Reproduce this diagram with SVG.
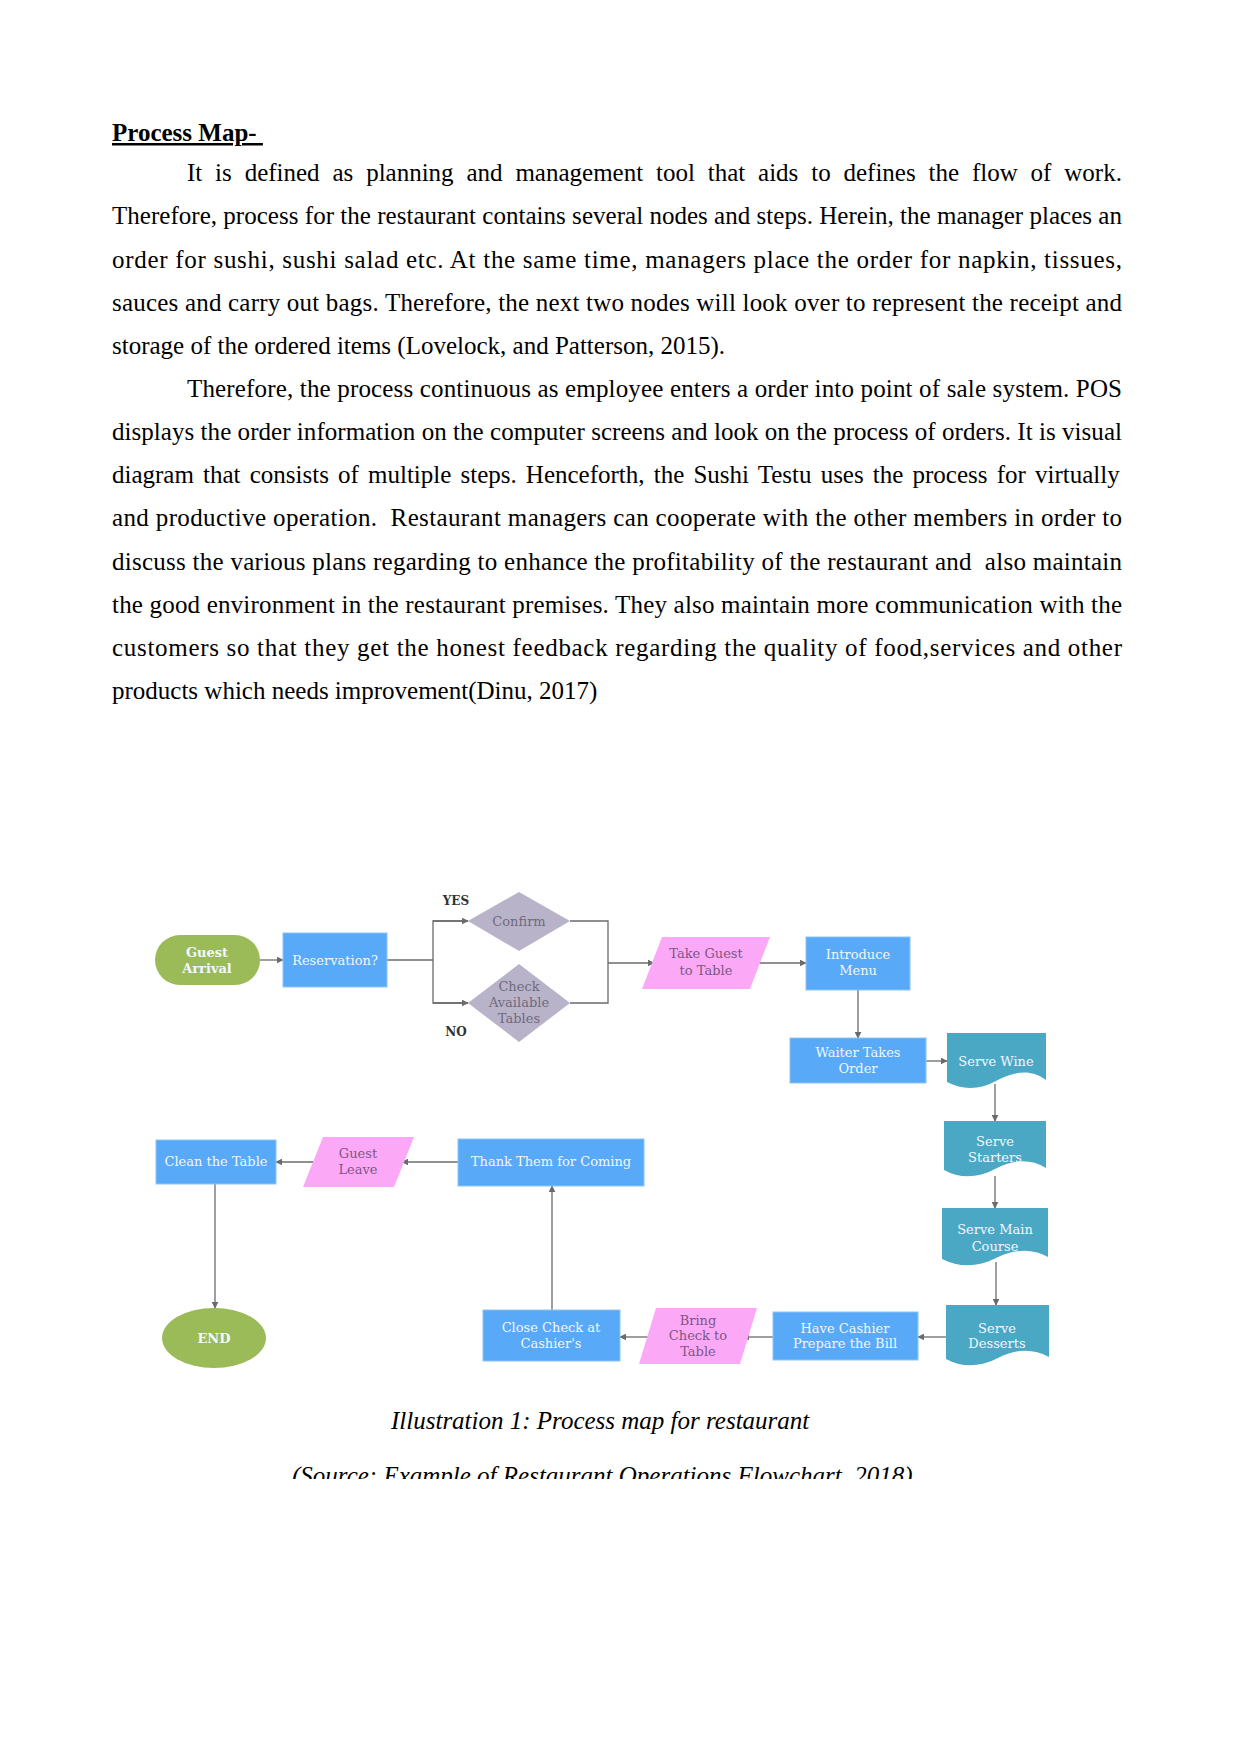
<svg xmlns="http://www.w3.org/2000/svg" width="1241" height="1754" viewBox="0 0 1241 1754">
<style>
.body{font-family:"Liberation Serif","Times New Roman",serif;font-size:25px;fill:#000}
.ital{font-style:italic}
.lbl{font-family:"DejaVu Serif",serif;font-size:13px;text-anchor:middle;fill:#f2f7ff}
.bold{font-weight:bold}
.dk{fill:#6f6a7d}
.pk{fill:#7b5784}
.yn{font-family:"DejaVu Serif",serif;font-size:12px;font-weight:bold;text-anchor:middle;fill:#333}
.box{fill:#58a9f7;stroke:#8cc4f9;stroke-width:1}
.doc{fill:#4ba8c5}
.para{fill:#fba9f7}
.dia{fill:#b9b3c9}
.grn{fill:#9bbb59}
.cn{fill:none;stroke:#6b6b6b;stroke-width:1.3}
</style>
<defs>
<marker id="ah" viewBox="0 0 10 10" refX="9" refY="5" markerWidth="7" markerHeight="7" markerUnits="userSpaceOnUse" orient="auto">
<path d="M0,0 L10,5 L0,10 Z" fill="#6b6b6b"/>
</marker>
<clipPath id="clipSrc"><rect x="0" y="1400" width="1241" height="79"/></clipPath>
</defs>
<rect width="1241" height="1754" fill="#fff"/>

<g id="text-body" class="body">
<text x="112" y="141" font-weight="bold" text-decoration="underline" xml:space="preserve">Process Map- </text>
<text x="187" y="181" word-spacing="6.6">It is defined as planning and management tool that aids to defines the flow of work.</text>
<text x="112" y="224" textLength="1010" lengthAdjust="spacing">Therefore, process for the restaurant contains several nodes and steps. Herein, the manager places an</text>
<text x="112" y="267.5" textLength="1010" lengthAdjust="spacing">order for sushi, sushi salad etc. At the same time, managers place the order for napkin, tissues,</text>
<text x="112" y="311" textLength="1010" lengthAdjust="spacing">sauces and carry out bags. Therefore, the next two nodes will look over to represent the receipt and</text>
<text x="112" y="354">storage of the ordered items (Lovelock, and Patterson, 2015).</text>
<text x="187" y="397" textLength="935" lengthAdjust="spacing">Therefore, the process continuous as employee enters a order into point of sale system. POS</text>
<text x="112" y="440" textLength="1010" lengthAdjust="spacing">displays the order information on the computer screens and look on the process of orders. It is visual</text>
<text x="112" y="483" word-spacing="2.9">diagram that consists of multiple steps. Henceforth, the Sushi Testu uses the process for virtually</text>
<text x="112" y="526" textLength="1010" lengthAdjust="spacing" xml:space="preserve">and productive operation.  Restaurant managers can cooperate with the other members in order to</text>
<text x="112" y="569.5" textLength="1010" lengthAdjust="spacing" xml:space="preserve">discuss the various plans regarding to enhance the profitability of the restaurant and  also maintain</text>
<text x="112" y="612.5" textLength="1010" lengthAdjust="spacing">the good environment in the restaurant premises. They also maintain more communication with the</text>
<text x="112" y="655.5" textLength="1010" lengthAdjust="spacing">customers so that they get the honest feedback regarding the quality of food,services and other</text>
<text x="112" y="699">products which needs improvement(Dinu, 2017)</text>
<text class="ital" x="391" y="1429">Illustration 1: Process map for restaurant</text>
<text class="ital" x="292" y="1484" clip-path="url(#clipSrc)">(Source: Example of Restaurant Operations Flowchart, 2018)</text>
</g>

<g id="connectors">
<line class="cn" x1="260" y1="960" x2="283" y2="960" marker-end="url(#ah)"/>
<polyline class="cn" points="387,960 433,960"/>
<polyline class="cn" points="468,921 433,921 433,1003 468,1003"/>
<line class="cn" x1="433" y1="921" x2="468" y2="921" marker-end="url(#ah)"/>
<line class="cn" x1="433" y1="1003" x2="468" y2="1003" marker-end="url(#ah)"/>
<polyline class="cn" points="570,921 608,921 608,1003 570,1003"/>
<line class="cn" x1="608" y1="963" x2="654" y2="963" marker-end="url(#ah)"/>
<line class="cn" x1="757" y1="963" x2="806" y2="963" marker-end="url(#ah)"/>
<line class="cn" x1="858" y1="990" x2="858" y2="1038" marker-end="url(#ah)"/>
<line class="cn" x1="926" y1="1061" x2="947" y2="1061" marker-end="url(#ah)"/>
<line class="cn" x1="995" y1="1084" x2="995" y2="1121" marker-end="url(#ah)"/>
<line class="cn" x1="995" y1="1176" x2="995" y2="1208" marker-end="url(#ah)"/>
<line class="cn" x1="996" y1="1262" x2="996" y2="1305" marker-end="url(#ah)"/>
<line class="cn" x1="946" y1="1337" x2="918" y2="1337" marker-end="url(#ah)"/>
<line class="cn" x1="773" y1="1337" x2="743" y2="1337" marker-end="url(#ah)"/>
<line class="cn" x1="652" y1="1337" x2="620" y2="1337" marker-end="url(#ah)"/>
<line class="cn" x1="552" y1="1310" x2="552" y2="1186" marker-end="url(#ah)"/>
<line class="cn" x1="458" y1="1162" x2="402" y2="1162" marker-end="url(#ah)"/>
<line class="cn" x1="315" y1="1162" x2="276" y2="1162" marker-end="url(#ah)"/>
<line class="cn" x1="215" y1="1184" x2="215" y2="1308" marker-end="url(#ah)"/>
</g>

<g id="label-yes"><text class="yn" x="456" y="905">YES</text></g>
<g id="label-no"><text class="yn" x="456" y="1036">NO</text></g>

<g id="guest-arrival">
<rect class="grn" x="155" y="935" width="105" height="50" rx="25"/>
<text class="lbl bold" x="207" y="957">Guest</text>
<text class="lbl bold" x="207" y="973">Arrival</text>
</g>
<g id="reservation">
<rect class="box" x="283" y="933" width="104" height="54"/>
<text class="lbl" x="335" y="964.5">Reservation?</text>
</g>
<g id="confirm">
<polygon class="dia" points="519,892 570,921 519,951 468,921"/>
<text class="lbl dk" x="519" y="925.5">Confirm</text>
</g>
<g id="check-tables">
<polygon class="dia" points="519,964 570,1003 519,1042 468,1003"/>
<text class="lbl dk" x="519" y="991">Check</text>
<text class="lbl dk" x="519" y="1007">Available</text>
<text class="lbl dk" x="519" y="1023">Tables</text>
</g>
<g id="take-guest">
<polygon class="para" points="662,937 770,937 750,989 642,989"/>
<text class="lbl pk" x="706" y="958">Take Guest</text>
<text class="lbl pk" x="706" y="975">to Table</text>
</g>
<g id="introduce-menu">
<rect class="box" x="806" y="937" width="104" height="53"/>
<text class="lbl" x="858" y="959">Introduce</text>
<text class="lbl" x="858" y="975">Menu</text>
</g>
<g id="waiter-order">
<rect class="box" x="790" y="1038" width="136" height="45"/>
<text class="lbl" x="858" y="1057">Waiter Takes</text>
<text class="lbl" x="858" y="1073">Order</text>
</g>
<g id="serve-wine">
<path class="doc" d="M947,1033 H1046 V1080 C1030,1068 1012,1072 996,1081 C980,1090 962,1090 947,1082 Z"/>
<text class="lbl" x="996" y="1066">Serve Wine</text>
</g>
<g id="serve-starters">
<path class="doc" d="M944,1121 H1046 V1168 C1030,1158 1012,1160 995,1169 C978,1178 960,1179 944,1170 Z"/>
<text class="lbl" x="995" y="1146">Serve</text>
<text class="lbl" x="995" y="1162">Starters</text>
</g>
<g id="serve-main">
<path class="doc" d="M942,1208 H1048 V1257 C1032,1248 1014,1249 996,1258 C978,1267 960,1268 942,1259 Z"/>
<text class="lbl" x="995" y="1234">Serve Main</text>
<text class="lbl" x="995" y="1251">Course</text>
</g>
<g id="serve-desserts">
<path class="doc" d="M946,1305 H1049 V1357 C1033,1348 1015,1349 998,1358 C980,1367 962,1368 946,1359 Z"/>
<text class="lbl" x="997" y="1333">Serve</text>
<text class="lbl" x="997" y="1348">Desserts</text>
</g>
<g id="have-cashier">
<rect class="box" x="773" y="1312" width="145" height="48"/>
<text class="lbl" x="845" y="1333">Have Cashier</text>
<text class="lbl" x="845" y="1348">Prepare the Bill</text>
</g>
<g id="bring-check">
<polygon class="para" points="656,1308 757,1308 740,1364 639,1364"/>
<text class="lbl pk" x="698" y="1325">Bring</text>
<text class="lbl pk" x="698" y="1340">Check to</text>
<text class="lbl pk" x="698" y="1356">Table</text>
</g>
<g id="close-check">
<rect class="box" x="483" y="1310" width="137" height="51"/>
<text class="lbl" x="551" y="1332">Close Check at</text>
<text class="lbl" x="551" y="1348">Cashier's</text>
</g>
<g id="thank-them">
<rect class="box" x="458" y="1139" width="186" height="47"/>
<text class="lbl" x="551" y="1166">Thank Them for Coming</text>
</g>
<g id="guest-leave">
<polygon class="para" points="323,1137 414,1137 394,1187 303,1187"/>
<text class="lbl pk" x="358" y="1158">Guest</text>
<text class="lbl pk" x="358" y="1174">Leave</text>
</g>
<g id="clean-table">
<rect class="box" x="156" y="1140" width="120" height="44"/>
<text class="lbl" x="216" y="1166">Clean the Table</text>
</g>
<g id="end">
<ellipse class="grn" cx="214" cy="1338" rx="52" ry="30"/>
<text class="lbl bold" x="214" y="1342.5">END</text>
</g>
</svg>
